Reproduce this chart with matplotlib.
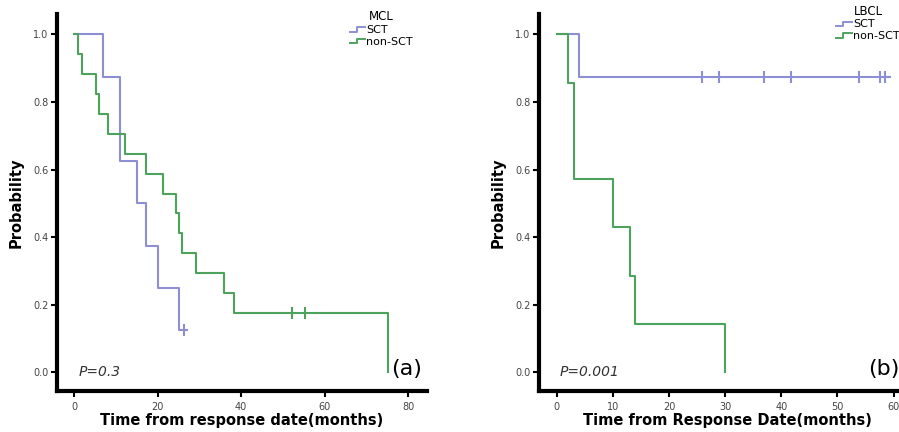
import matplotlib
matplotlib.use("Agg")
import matplotlib.pyplot as plt
from matplotlib.lines import Line2D
from matplotlib.legend_handler import HandlerBase

# ---- data ----
# MCL panel
mcl_sct_t = [0, 7, 11, 15, 17.2, 20, 25.2, 27]
mcl_sct_s = [1.0, 0.875, 0.625, 0.5, 0.375, 0.25, 0.125, 0.125]
mcl_sct_cens_t = [26.2]
mcl_sct_cens_s = [0.125]

mcl_non_t = [0, 1.0, 1.8, 5.2, 6.0, 8.2, 12.2, 17.2, 21.2, 24.4, 25.1, 25.9, 29.1, 36.0, 38.3, 75.1]
mcl_non_s = [1.0, 0.941, 0.882, 0.824, 0.765, 0.706, 0.647, 0.588, 0.529, 0.471,
             0.412, 0.353, 0.294, 0.235, 0.176, 0.0]
mcl_non_cens_t = [52.2, 55.2]
mcl_non_cens_s = [0.176, 0.176]

# LBCL panel
lbcl_sct_t = [0, 4.0, 59.4]
lbcl_sct_s = [1.0, 0.875, 0.875]
lbcl_sct_cens_t = [25.9, 28.9, 36.9, 41.7, 53.8, 57.6, 58.5]
lbcl_sct_cens_s = [0.875] * 7

lbcl_non_t = [0, 2.0, 3.1, 10.0, 13.0, 14.0, 30.0]
lbcl_non_s = [1.0, 0.857, 0.571, 0.429, 0.286, 0.143, 0.0]

yticks = [0.0, 0.2, 0.4, 0.6, 0.8, 1.0]
left_xticks = [0, 20, 40, 60, 80]
right_xticks = [0, 10, 20, 30, 40, 50, 60]

SCT_C = "#8c8fd2"
NON_C = "#4ea35c"

W, H = 899, 432
fig = plt.figure(figsize=(W / 100, H / 100), dpi=100)


def px_axes(l, r, t, b):
    return fig.add_axes([l / W, 1 - b / H, (r - l) / W, (b - t) / H])


class StepHandler(HandlerBase):
    def create_artists(self, legend, orig_handle, xdescent, ydescent, width,
                       height, fontsize, trans):
        c = orig_handle.get_color()
        xs = [0, width * 0.45, width * 0.45, width]
        ys = [height * 0.2, height * 0.2, height * 0.75, height * 0.75]
        ln = Line2D([x - xdescent for x in xs], [y - ydescent for y in ys],
                    color=c, lw=1.4, transform=trans)
        return [ln]


def style(ax, xlim, xticks, xlabel):
    ax.set_xlim(*xlim)
    ax.set_ylim(-0.055, 1.06)
    for s in ["top", "right"]:
        ax.spines[s].set_visible(False)
    for s in ["left", "bottom"]:
        ax.spines[s].set_linewidth(3)
    ax.set_xticks(xticks)
    ax.set_yticks(yticks)
    ax.set_yticklabels([f"{v:.1f}" for v in yticks])
    ax.tick_params(axis="both", length=4, width=1.5, labelsize=7,
                   labelcolor="#444444", pad=2)
    ax.tick_params(axis="x", pad=4)
    ax.set_ylabel("Probability", fontsize=10.5, fontweight="bold", labelpad=7)
    ax.set_xlabel(xlabel, fontsize=10.5, fontweight="bold", labelpad=1)


def km(ax, t, s, color):
    ax.step(t, s, where="post", color=color, lw=1.5)


# left panel
ax1 = px_axes(57, 427, 14, 391)
km(ax1, mcl_sct_t, mcl_sct_s, SCT_C)
km(ax1, mcl_non_t, mcl_non_s, NON_C)
ax1.plot(mcl_sct_cens_t, mcl_sct_cens_s, ls="none", marker="|", ms=8, mew=1.5, color=SCT_C)
ax1.plot(mcl_non_cens_t, mcl_non_cens_s, ls="none", marker="|", ms=8, mew=1.5, color=NON_C)
style(ax1, (-4.1, 84.5), left_xticks, "Time from response date(months)")
ax1.text(1, 0.0, "P=0.3", style="italic", fontsize=10, color="#333333",
         va="center", ha="left")
ax1.text(76, 0.01, "(a)", fontsize=16, va="center", ha="left")
h = [Line2D([], [], color=SCT_C), Line2D([], [], color=NON_C)]
leg1 = ax1.legend(h, ["SCT", "non-SCT"], title="MCL", frameon=False,
                  handler_map={Line2D: StepHandler()}, fontsize=8,
                  title_fontsize=8.5, loc="upper left",
                  bbox_to_anchor=(0.77, 1.03), handlelength=1.4,
                  handletextpad=0.1, labelspacing=0.15, borderpad=0.2)

# right panel
ax2 = px_axes(539, 916, 14, 391)
km(ax2, lbcl_sct_t, lbcl_sct_s, SCT_C)
km(ax2, lbcl_non_t, lbcl_non_s, NON_C)
ax2.plot(lbcl_sct_cens_t, lbcl_sct_cens_s, ls="none", marker="|", ms=8, mew=1.5, color=SCT_C)
style(ax2, (-3.15, 64), right_xticks, "Time from Response Date(months)")
ax2.text(0.5, 0.0, "P=0.001", style="italic", fontsize=10, color="#333333",
         va="center", ha="left")
ax2.text(55.4, 0.01, "(b)", fontsize=16, va="center", ha="left")
leg2 = ax2.legend(h, ["SCT", "non-SCT"], title="LBCL", frameon=False,
                  handler_map={Line2D: StepHandler()}, fontsize=8,
                  title_fontsize=8.5, loc="upper left",
                  bbox_to_anchor=(0.768, 1.045), handlelength=1.4,
                  handletextpad=0.1, labelspacing=0.15, borderpad=0.2)

fig.savefig("out.png", dpi=100)
